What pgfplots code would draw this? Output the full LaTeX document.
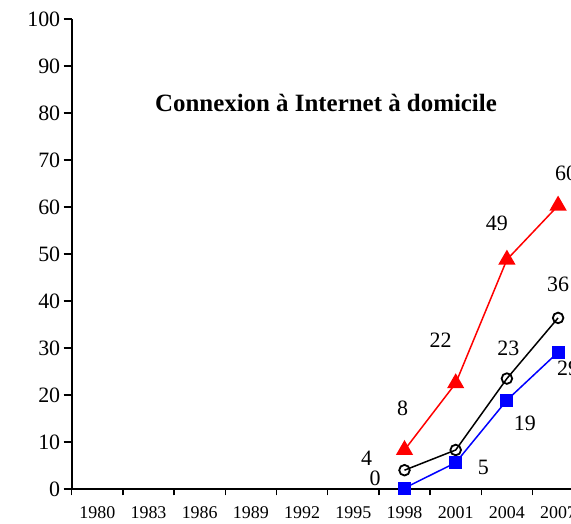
\documentclass[border=0pt]{standalone}
\usepackage{fontspec}
\setmainfont{Liberation Serif}
\usepackage{pgfplots}
\pgfplotsset{compat=1.18}
\begin{document}
\begin{tikzpicture}
\path[use as bounding box] (0bp,0bp) rectangle (571bp,524bp);
\clip (0bp,0bp) rectangle (571bp,524bp);
\begin{axis}[
  at={(71.7bp,35bp)}, anchor=south west,
  scale only axis, width=512bp, height=470bp,
  xmin=-0.5, xmax=9.5, ymin=0, ymax=100,
  axis x line*=bottom, axis y line*=left,
  axis line style={line width=1.6bp, black},
  ytick={0,10,...,100},
  xtick={0,...,9},
  xticklabels={1980,1983,1986,1989,1992,1995,1998,2001,2004,2007},
  minor xtick={-0.5,0.5,...,9.5},
  tick align=outside,
  major x tick style={draw=none},
  minor x tick style={line width=1.4bp, black},
  y tick style={line width=1.4bp, black},
  major tick length=8bp, minor tick length=6.5bp,
  /pgf/number format/assume math mode=true,
  yticklabel style={font=\fontsize{22}{22}\selectfont},
  xticklabel style={font=\fontsize{18}{18}\selectfont, yshift=-9bp, inner sep=0pt},
  clip=false,
]
\addplot[red, line width=1.5bp, mark=triangle*, mark size=8.5bp, mark options={fill=red, draw=red}]
  coordinates {(6,8.3) (7,22.5) (8,48.8) (9,60.3)};
\addplot[black, line width=1.5bp, mark=o, mark size=5.3bp, mark options={fill=white, line width=1.8bp}]
  coordinates {(6,4) (7,8.3) (8,23.5) (9,36.4)};
\addplot[blue, line width=1.5bp, mark=square*, mark size=5.8bp, mark options={fill=blue, draw=blue}]
  coordinates {(6,0.2) (7,5.6) (8,18.9) (9,29.1)};
\begin{scope}[every node/.style={font=\fontsize{22}{22}\selectfont, text=black}]
\node[xshift=-2bp, yshift=43bp] at (axis cs:6,8) {8};
\node[xshift=-15bp, yshift=45bp] at (axis cs:7,22) {22};
\node[xshift=-10bp, yshift=35bp] at (axis cs:8,49) {49};
\node[xshift=8bp, yshift=34bp] at (axis cs:9,60) {60};
\node[xshift=-38bp, yshift=12bp] at (axis cs:6,4) {4};
\node[xshift=1.5bp, yshift=33bp] at (axis cs:8,23) {23};
\node[xshift=0bp, yshift=35bp] at (axis cs:9,36) {36};
\node[xshift=-29.5bp, yshift=11bp] at (axis cs:6,0) {0};
\node[xshift=27.6bp, yshift=-2bp] at (axis cs:7,5) {5};
\node[xshift=18bp, yshift=-23.6bp] at (axis cs:8,19) {19};
\node[xshift=10bp, yshift=-15.6bp] at (axis cs:9,29) {29};
\end{scope}
\end{axis}
\node[font=\bfseries\fontsize{25}{25}\selectfont] at (326bp,421bp) {Connexion à Internet à domicile};
\end{tikzpicture}
\end{document}
